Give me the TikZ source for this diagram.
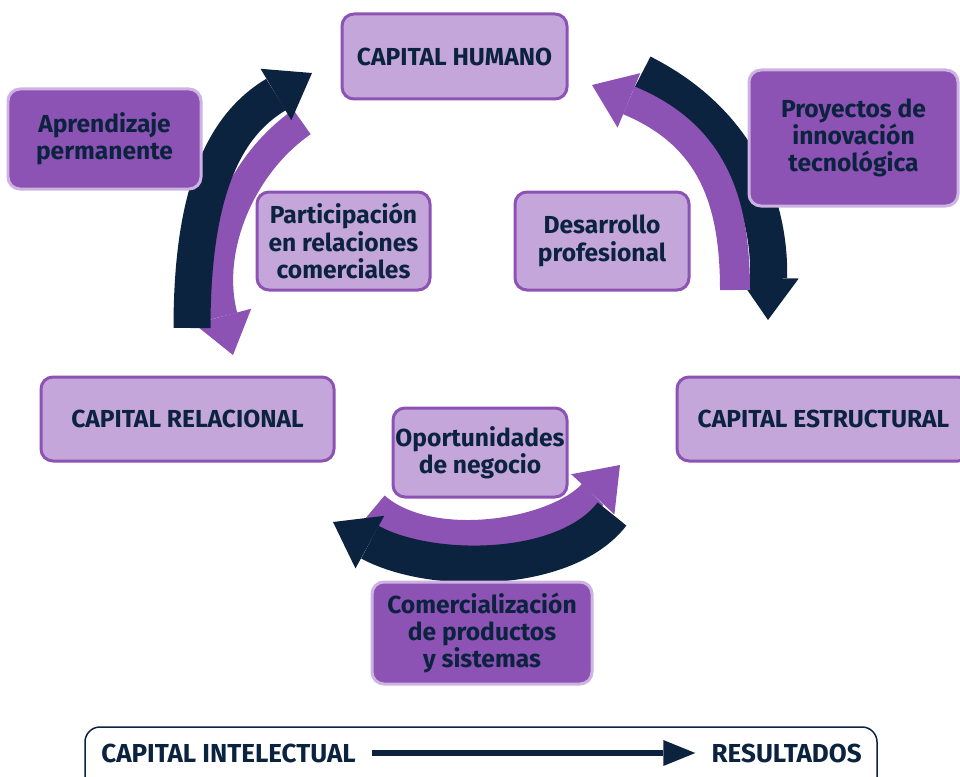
\documentclass[tikz,border=0pt]{standalone}
\usepackage{fontspec}
\setmainfont{Fira Sans}
\usetikzlibrary{arrows.meta}
\definecolor{navy}{HTML}{0C2340}
\definecolor{purp}{HTML}{8C52B4}
\definecolor{lav}{HTML}{C4A6DA}
\definecolor{lavb}{HTML}{CDB3E2}
\newlength\pxu \setlength\pxu{0.02cm}
\begin{document}
\begin{tikzpicture}[x=0.02cm,y=-0.02cm,
  box/.style={rounded corners=0.24cm, line width=0.06cm, align=center, text=navy, inner sep=0pt,
    font=\bfseries\fontsize{14}{15.5}\selectfont},
  lightbox/.style={box, draw=purp, fill=lav},
  darkbox/.style={box, draw=lavb, fill=purp},
  barfont/.style={text=navy, inner sep=0pt, font=\bfseries\fontsize{14.8}{16}\selectfont},
  navyarr/.style={draw=navy, line width=0.74cm, -{Triangle[length=0.84cm,width=1.2cm,line width=0pt]}},
  purparr/.style={draw=purp, line width=0.6cm, -{Triangle[length=0.8cm,width=1.18cm,line width=0pt]}}]
\useasboundingbox (0,0) rectangle (960,777);
\clip (0,0) rectangle (960,777);

% named coordinates for the arrows
\coordinate (lnS) at (192,328);  \coordinate (lnE) at (312,73);
\coordinate (lpS) at (302,122);  \coordinate (lpE) at (233,355);
\coordinate (rnS) at (642,73);   \coordinate (rnE) at (768,320);
\coordinate (rpS) at (735,290);  \coordinate (rpE) at (592,85);
\coordinate (bpS) at (375,507);  \coordinate (bpE) at (620,465);
\coordinate (bnS) at (612,514);  \coordinate (bnE) at (333,522);

% left pair
\draw[purparr] (lpS) .. controls (240,165) and (205,250) .. (lpE);
\draw[navyarr] (lnS) .. controls (192,190) and (225,125) .. (lnE);
% right pair
\draw[navyarr] (rnS) .. controls (735,120) and (770,200) .. (rnE);
\draw[purparr] (rpS) .. controls (735,200) and (712,135) .. (rpE);
% bottom pair
\draw[purparr] (bpS) .. controls (430,555) and (555,535) .. (bpE);
\draw[navyarr] (bnS) .. controls (565,575) and (430,575) .. (bnE);

% boxes
\node[lightbox, minimum width=225\pxu, minimum height=85\pxu] (hum) at (454.5,56.5) {CAPITAL HUMANO};
\node[darkbox, minimum width=193\pxu, minimum height=100\pxu] (apr) at (104.5,139) {Aprendizaje\\permanente};
\node[darkbox, minimum width=209\pxu, minimum height=136\pxu] (proy) at (853.5,138) {Proyectos de\\innovación\\tecnológica};
\node[lightbox, minimum width=173\pxu, minimum height=98\pxu] (part) at (343.5,241) {Participación\\en relaciones\\comerciales};
\node[lightbox, minimum width=174\pxu, minimum height=98\pxu] (desa) at (602,241) {Desarrollo\\profesional};
\node[lightbox, minimum width=293\pxu, minimum height=84\pxu] (rel) at (187.5,419) {CAPITAL RELACIONAL};
\node[lightbox, minimum width=293\pxu, minimum height=84\pxu] (est) at (823.5,419) {CAPITAL ESTRUCTURAL};
\node[lightbox, minimum width=174\pxu, minimum height=89\pxu] (opor) at (480,452.5) {Oportunidades\\de negocio};
\node[darkbox, minimum width=220\pxu, minimum height=102\pxu] (com) at (482,633) {Comercialización\\de productos\\y sistemas};

% bottom bar
\node[draw=navy, fill=white, line width=0.03cm, rounded corners=0.3cm, minimum width=792\pxu, minimum height=66\pxu, inner sep=0pt] (bar) at (481,760) {};
\node[barfont, anchor=west] (ci) at (101,753) {CAPITAL INTELECTUAL};
\node[barfont, anchor=east] (res) at (862,753) {RESULTADOS};
\draw[navy, line width=0.12cm, -{Triangle[length=0.64cm,width=0.52cm,line width=0pt]}, shorten <=16\pxu, shorten >=16\pxu] (ci) -- (res);
\end{tikzpicture}
\end{document}
